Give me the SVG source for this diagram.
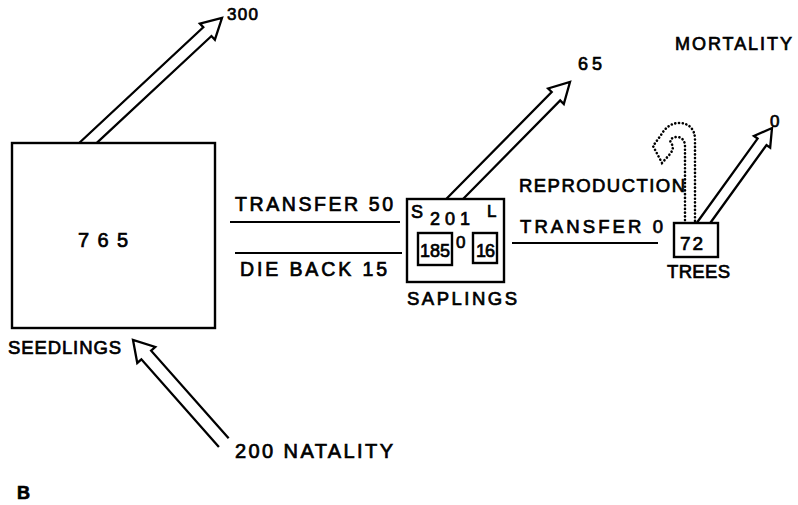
<svg xmlns="http://www.w3.org/2000/svg" width="798" height="505" viewBox="0 0 798 505">
<style>
.t{font-family:"Liberation Sans",Arial,sans-serif;fill:#000;stroke:#000;stroke-width:0.7;}
.box{fill:none;stroke:#000;stroke-width:2.4;}
.ln{stroke:#000;stroke-width:2.2;fill:none;}
.arr{fill:none;stroke:#000;stroke-width:2.3;stroke-linejoin:miter;}
.dot{fill:none;stroke:#000;stroke-width:2.6;stroke-dasharray:0.1 3.6;stroke-linecap:round;}
</style>
<rect width="798" height="505" fill="#fff"/>
<g id="connectors">
  <polyline class="arr" transform="translate(222,18) rotate(-43)" points="-189.7,-6 -20,-6 -20,-11 0,0 -20,11 -20,6 -176.8,6"/>
  <polyline class="arr" transform="translate(570,82) rotate(-45.4)" points="-170.2,-6 -20,-6 -20,-11 0,0 -20,11 -20,6 -158.4,6"/>
  <polyline class="arr" transform="translate(772,128) rotate(-54.2)" points="-121.1,-5.5 -17,-5.5 -17,-10 0,0 -17,10 -17,5.5 -113.2,5.5"/>
  <polyline class="arr" transform="translate(133,340) rotate(-131.5)" points="-137,-6.5 -20,-6.5 -20,-12 0,0 -20,12 -20,6.5 -137,6.5"/>
  <line class="ln" x1="230" y1="222" x2="400" y2="222"/>
  <line class="ln" x1="235" y1="253" x2="402" y2="253"/>
  <line class="ln" x1="512" y1="243" x2="658" y2="243"/>
  <path class="dot" d="M 695 221 L 695 140 C 695 128 688 123 679 123 C 671 123 665 128 661 135 L 653 146 L 662 163 L 670 154 C 673 150 674 147 671 143 C 669 140 672 137 677 137 C 682 137 685 141 685 146 L 685 221"/>
  <text class="t" x="227" y="20" font-size="17" textLength="31" lengthAdjust="spacing">300</text>
  <text class="t" x="578" y="70" font-size="18" textLength="24" lengthAdjust="spacing">65</text>
  <text class="t" x="770" y="127" font-size="17">0</text>
  <text class="t" x="675" y="50" font-size="18" textLength="117" lengthAdjust="spacing">MORTALITY</text>
  <text class="t" x="235" y="211" font-size="19.5" textLength="158" lengthAdjust="spacing">TRANSFER  50</text>
  <text class="t" x="240" y="276" font-size="19.5" textLength="147" lengthAdjust="spacing">DIE BACK  15</text>
  <text class="t" x="519" y="192" font-size="18.5" textLength="166" lengthAdjust="spacing">REPRODUCTION</text>
  <text class="t" x="520" y="233" font-size="18.5" textLength="143" lengthAdjust="spacing">TRANSFER   0</text>
  <text class="t" x="235" y="458" font-size="20" textLength="158" lengthAdjust="spacing">200  NATALITY</text>
</g>
<g id="seedlings">
  <rect class="box" x="12" y="143" width="203" height="185"/>
  <text class="t" x="78" y="247" font-size="20" textLength="50" lengthAdjust="spacing">765</text>
  <text class="t" x="8" y="354" font-size="18.5" textLength="113" lengthAdjust="spacing">SEEDLINGS</text>
</g>
<g id="saplings">
  <rect class="box" x="407" y="199" width="97" height="83"/>
  <text class="t" x="411" y="218" font-size="18">S</text>
  <text class="t" x="430" y="225" font-size="18" textLength="40" lengthAdjust="spacing">201</text>
  <text class="t" x="487" y="217" font-size="17">L</text>
  <rect class="box" x="418" y="233" width="34" height="32"/>
  <text class="t" x="420" y="257" font-size="18" textLength="30" lengthAdjust="spacing">185</text>
  <text class="t" x="456" y="248" font-size="17">0</text>
  <rect class="box" x="473" y="233" width="24" height="30"/>
  <text class="t" x="476" y="257" font-size="18" textLength="19" lengthAdjust="spacing">16</text>
  <text class="t" x="407" y="305" font-size="18.5" textLength="110" lengthAdjust="spacing">SAPLINGS</text>
</g>
<g id="trees">
  <rect class="box" x="674" y="223" width="44" height="34"/>
  <text class="t" x="680" y="250" font-size="19" textLength="23" lengthAdjust="spacing">72</text>
  <text class="t" x="667" y="278" font-size="18.5" textLength="63" lengthAdjust="spacing">TREES</text>
</g>
<g id="label-b">
  <text class="t" x="17" y="499" font-size="18" font-weight="bold">B</text>
</g>
</svg>
